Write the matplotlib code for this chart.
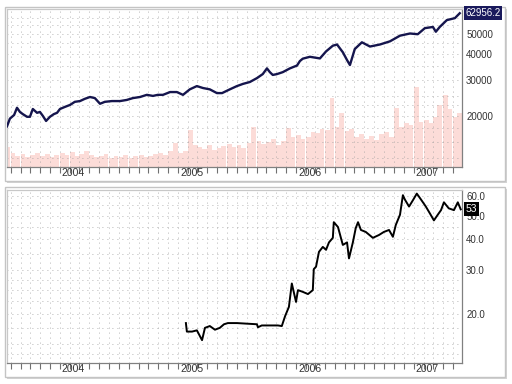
import matplotlib
matplotlib.use('Agg')
import matplotlib.pyplot as plt
import matplotlib.dates as mdates
from matplotlib.patches import Rectangle
from matplotlib.ticker import NullLocator, NullFormatter
import pandas as pd

plt.rcParams['font.family'] = ['Liberation Sans', 'DejaVu Sans']

# ===== DATA =====
index_dates = [
    '2003-07-21', '2003-07-30', '2003-08-12', '2003-08-21', '2003-08-30', '2003-09-08',
    '2003-09-21', '2003-09-30', '2003-10-09', '2003-10-22', '2003-10-31', '2003-11-09',
    '2003-11-19', '2003-12-01', '2003-12-13', '2003-12-23', '2004-01-01', '2004-01-16',
    '2004-02-01', '2004-02-16', '2004-03-03', '2004-03-18', '2004-04-03', '2004-04-18',
    '2004-05-04', '2004-05-19', '2004-06-10', '2004-07-05', '2004-07-26', '2004-08-14',
    '2004-09-05', '2004-09-26', '2004-10-15', '2004-10-30', '2004-11-15', '2004-12-07',
    '2004-12-28', '2005-01-16', '2005-02-06', '2005-02-28', '2005-03-19', '2005-04-09',
    '2005-05-01', '2005-05-17', '2005-06-10', '2005-07-02', '2005-07-21', '2005-08-11',
    '2005-09-02', '2005-09-20', '2005-10-03', '2005-10-12', '2005-10-21', '2005-11-03',
    '2005-11-21', '2005-12-13', '2006-01-04', '2006-01-13', '2006-01-22', '2006-02-13',
    '2006-03-16', '2006-04-04', '2006-04-25', '2006-05-08', '2006-05-26', '2006-06-08',
    '2006-06-17', '2006-07-02', '2006-07-24', '2006-08-18', '2006-09-18', '2006-10-19',
    '2006-11-19', '2006-12-20', '2007-01-13', '2007-02-04', '2007-03-01', '2007-03-10',
    '2007-03-22', '2007-04-13', '2007-05-08', '2007-05-23',
]
index_values = [
    17800, 19400, 20200, 21900, 20900, 20400,
    19800, 19800, 21600, 20700, 20900, 20000,
    18900, 19800, 20400, 20700, 21600, 22100,
    22600, 23400, 23600, 24200, 24700, 24400,
    22900, 23400, 23600, 23600, 23900, 24400,
    24700, 25300, 25000, 25300, 25300, 26100,
    26100, 25300, 26900, 27900, 27300, 26900,
    25800, 25800, 26900, 27900, 28600, 29200,
    30500, 31900, 34000, 32600, 31600, 31900,
    32600, 34000, 35100, 36900, 37900, 38700,
    38000, 41100, 43800, 44400, 40700, 37300,
    35300, 42200, 45500, 43400, 44400, 46000,
    49000, 50200, 49800, 53300, 54000, 51200,
    54000, 58300, 59600, 62956.2,
]

# semi-monthly volume, Jul 2003 .. May 2007 (arbitrary units)
volume = [
    12, 20, 14, 11, 13, 10, 12, 14, 11, 13, 10, 12,
    14, 12, 15, 11, 13, 16, 12, 10, 11, 13, 9, 11,
    10, 12, 9, 11, 12, 10, 11, 13, 14, 12, 16, 24,
    14, 16, 37, 22, 20, 18, 22, 17, 19, 21, 23, 20,
    22, 19, 24, 40, 26, 23, 25, 28, 22, 26, 39, 30,
    32, 28, 30, 35, 34, 38, 37, 69, 40, 54, 36, 38,
    30, 33, 28, 31, 27, 33, 35, 30, 59, 40, 44, 42,
    80, 45, 47, 44, 50, 62, 72, 58, 50, 54,
]

stock_dates = [
    '2005-01-25', '2005-01-28', '2005-02-13', '2005-02-28', '2005-03-16', '2005-03-25',
    '2005-04-09', '2005-04-25', '2005-05-10', '2005-05-23', '2005-06-04', '2005-07-02',
    '2005-09-02', '2005-09-05', '2005-09-17', '2005-11-06', '2005-11-18', '2005-11-28',
    '2005-12-10', '2005-12-19', '2006-01-01', '2006-01-07', '2006-01-22', '2006-02-07',
    '2006-02-22', '2006-02-25', '2006-03-04', '2006-03-13', '2006-03-25', '2006-04-04',
    '2006-04-13', '2006-04-25', '2006-04-28', '2006-05-11', '2006-05-20', '2006-05-26',
    '2006-06-08', '2006-06-14', '2006-06-26', '2006-07-05', '2006-07-12', '2006-07-21',
    '2006-08-05', '2006-08-27', '2006-09-15', '2006-09-30', '2006-10-16', '2006-10-28',
    '2006-11-06', '2006-11-19', '2006-11-28', '2006-12-04', '2006-12-17', '2006-12-29',
    '2007-01-10', '2007-01-23', '2007-02-07', '2007-02-20', '2007-03-04', '2007-03-16',
    '2007-03-26', '2007-04-04', '2007-04-19', '2007-05-05', '2007-05-17', '2007-05-26',
]
stock_values = [
    18.3, 16.9, 16.9, 17.1, 15.6, 17.5,
    17.8, 17.2, 17.5, 18.1, 18.3, 18.3,
    18.1, 17.6, 17.9, 17.9, 17.8, 19.5,
    21.3, 26.5, 22.3, 24.9, 24.5, 24.0,
    24.9, 30.3, 31.0, 35.6, 37.3, 36.3,
    38.9, 40.6, 47.0, 44.9, 40.6, 38.0,
    38.9, 33.5, 38.9, 44.5, 47.0, 43.7,
    42.9, 40.6, 41.7, 42.9, 43.7, 41.0,
    45.8, 50.4, 60.5, 58.1, 54.4, 57.7,
    61.4, 58.1, 54.4, 50.9, 47.8, 50.4,
    52.6, 56.6, 53.5, 52.6, 56.6, 53.0,
]

years = [2004, 2005, 2006, 2007]
top_ticks = [20000, 30000, 40000, 50000]
top_grid = [12500, 15000, 17500, 20000, 22500, 25000, 30000, 35000,
            40000, 45000, 50000, 55000, 60000]
bot_ticks = [20.0, 30.0, 40.0, 50.0, 60.0]
bot_grid = [13.75, 15, 17.5, 20, 22.5, 25, 27.5, 30, 35, 40, 45, 50, 55, 60]
# ===== END DATA =====

W, H = 512, 384
GRID = dict(color='#9c9c9c', lw=0.6, ls=(0, (1, 5)), zorder=1)
index_dates = pd.to_datetime(index_dates)
stock_dates = pd.to_datetime(stock_dates)
vol_dates = pd.date_range('2003-07-01', periods=len(volume), freq='SMS')
x_start, x_end = pd.Timestamp('2003-07-21'), pd.Timestamp('2007-05-30')

fig = plt.figure(figsize=(W / 100, H / 100), dpi=100)
fig.patch.set_facecolor('white')


def fig_rect(x0, y0, x1, y1, **kw):
    return Rectangle((x0 / W, 1 - y1 / H), (x1 - x0) / W, (y1 - y0) / H,
                     transform=fig.transFigure, **kw)


# panel frames with a soft shadow
for (x0, y0, x1, y1) in [(5, 7, 505, 181), (5, 187, 505, 377)]:
    fig.add_artist(fig_rect(x0 + 2, y0 + 2, x1 + 2, y1 + 2, facecolor='#d4d4d4',
                            edgecolor='none', zorder=-2))
    fig.add_artist(fig_rect(x0, y0, x1, y1, facecolor='white',
                            edgecolor='#c4c4c4', lw=1, zorder=-1))


def style_axes(ax, label_y):
    ax.set_xlim(x_start, x_end)
    ax.xaxis.set_major_locator(mdates.YearLocator())
    ax.xaxis.set_minor_locator(mdates.MonthLocator())
    ax.xaxis.set_major_formatter(NullFormatter())
    ax.tick_params(axis='x', which='both', direction='out', length=4,
                   width=0.8, color='#707070')
    ax.yaxis.set_minor_locator(NullLocator())
    ax.tick_params(axis='y', which='both', length=0, pad=3,
                   labelsize=7, labelcolor='#333333')
    for side, c in [('left', '#c8c8c8'), ('top', '#c8c8c8'),
                    ('right', '#808080'), ('bottom', '#808080')]:
        ax.spines[side].set_color(c)
        ax.spines[side].set_linewidth(0.9)
    # dotted grid: monthly columns
    for m in pd.date_range('2003-08-01', '2007-05-01', freq='MS'):
        ax.axvline(m, **GRID)
    for y in years:
        ax.text(pd.Timestamp(f'{y}-01-01') + pd.Timedelta(days=6), label_y, str(y),
                transform=ax.get_xaxis_transform(), ha='left', va='center',
                fontsize=7.5, color='#333333', clip_on=False)


# ----- top panel: index + volume -----
ax1 = fig.add_axes([7 / W, 1 - 167 / H, 455 / W, 158 / H])
vol = ax1.twinx()
vol.bar(vol_dates, volume, width=15, align='edge', color='#fcdcd8', linewidth=0)
vol.set_ylim(0, 158)
vol.set_yticks([])
for s in vol.spines.values():
    s.set_visible(False)
ax1.set_zorder(vol.get_zorder() + 1)
ax1.patch.set_visible(False)
ax1.yaxis.tick_right()

ax1.plot(index_dates, index_values, color='#15154d', lw=1.7, zorder=3)
ax1.set_yscale('log')
ax1.set_ylim(11300, 66000)
ax1.set_yticks(top_ticks)
ax1.set_yticklabels([f'{v:d}' for v in top_ticks])
style_axes(ax1, -6 / 158)
for g in top_grid:
    ax1.axhline(g, **GRID)
ax1.annotate(f'{index_values[-1]:.1f}', xy=(1, index_values[-1]),
             xycoords=('axes fraction', 'data'), xytext=(2.5, 0),
             textcoords='offset points', ha='left', va='center', color='white',
             fontsize=7, annotation_clip=False, zorder=5,
             bbox=dict(boxstyle='square,pad=0.18', fc='#1a1a5c', ec='none'))

# ----- bottom panel: stock -----
ax2 = fig.add_axes([7 / W, 1 - 363 / H, 455 / W, 173 / H])
ax2.plot(stock_dates, stock_values, color='black', lw=1.4, zorder=3)
ax2.set_yscale('log')
ax2.set_ylim(12.6, 63.5)
ax2.yaxis.tick_right()
ax2.set_yticks(bot_ticks)
ax2.set_yticklabels([f'{v:.1f}' for v in bot_ticks])
style_axes(ax2, -6.5 / 173)
for g in bot_grid:
    ax2.axhline(g, **GRID)
ax2.annotate(f'{stock_values[-1]:.0f}', xy=(1, stock_values[-1]),
             xycoords=('axes fraction', 'data'), xytext=(2.5, 0),
             textcoords='offset points', ha='left', va='center', color='white',
             fontsize=7.5, annotation_clip=False, zorder=5,
             bbox=dict(boxstyle='square,pad=0.18', fc='black', ec='none'))

fig.savefig('out.png', dpi=100, facecolor='white')
